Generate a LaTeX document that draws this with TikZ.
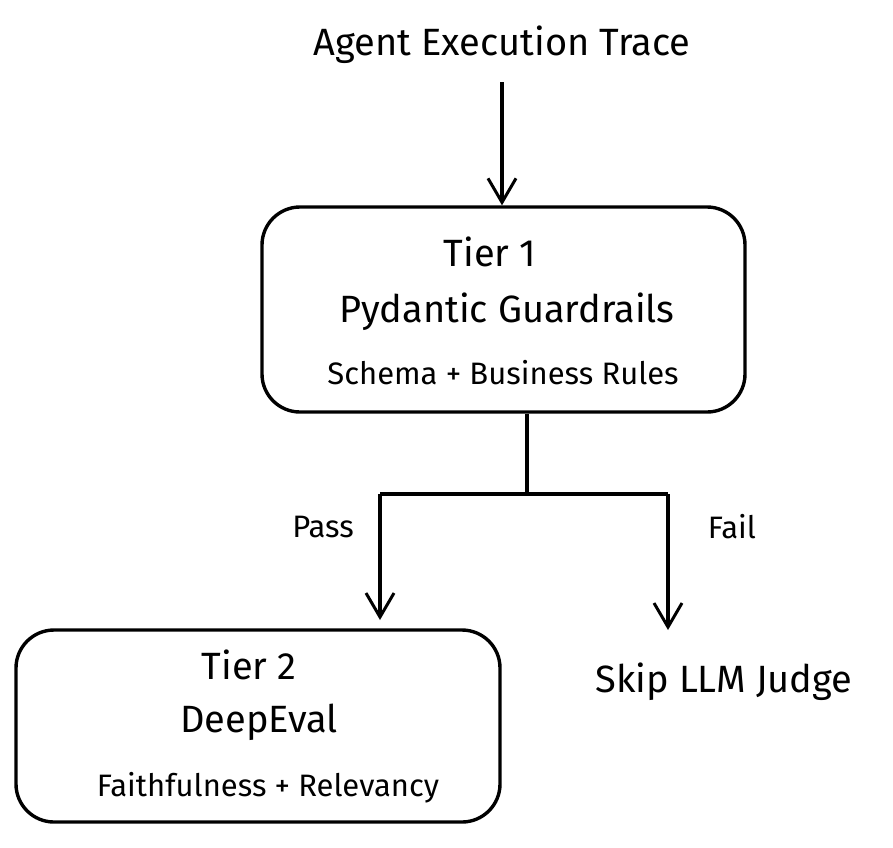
\documentclass[tikz,border=0pt]{standalone}
\usepackage{fontspec}
\setmainfont{Fira Sans}
\usetikzlibrary{arrows.meta,positioning}
\tikzset{
  tierbox/.style={draw, line width=3.4pt, rounded corners=38pt, align=center},
  flow/.style={line width=3.4pt, -{Straight Barb[length=24pt,width=28pt,line width=3pt]}},
  link/.style={line width=3.4pt},
  big/.style={font=\fontsize{38}{44}\selectfont},
  small/.style={font=\fontsize{31}{36}\selectfont}
}
\begin{document}
\begin{tikzpicture}[x=1pt,y=-1pt]
                \useasboundingbox (0,0) rectangle (893,847);
                \node[big] (trace) at (502,45) {Agent Execution Trace};

                \node[tierbox, minimum width=483pt, minimum height=205pt] (t1) at (503.5,309.5) {};
                \node[big] (t1a) at (490,252) {Tier 1};
                \node[big] (t1b) at (507,312) {Pydantic Guardrails};
                \node[small] (t1c) at (503,373) {Schema + Business Rules};

                \node[tierbox, minimum width=484pt, minimum height=192pt] (t2) at (258,726) {};
                \node[big] (t2a) at (249,665) {Tier 2};
                \node[big] (t2b) at (259,722) {DeepEval};
                \node[small] (t2c) at (268,788) {Faithfulness + Relevancy};

                \node[big] (skip) at (724,682) {Skip LLM Judge};

                \coordinate (top) at (502,82);
                \coordinate (split) at (527,494);
                \coordinate (left) at (380,494);
                \coordinate (right) at (668,494);
                \coordinate (leftend) at (380,620);
                \coordinate (rightend) at (668,630);

                \draw[flow] (top) -- (t1.north -| top);
                \draw[link] (t1.south -| split) -- (split);
                \draw[link] (left) -- (right);
                \draw[flow] (left) -- (leftend);
                \draw[flow] (right) -- (rightend);

                \node[small] (pass) at (323,527) {Pass};
                \node[small] (fail) at (732,527) {Fail};
            \end{tikzpicture}
\end{document}
